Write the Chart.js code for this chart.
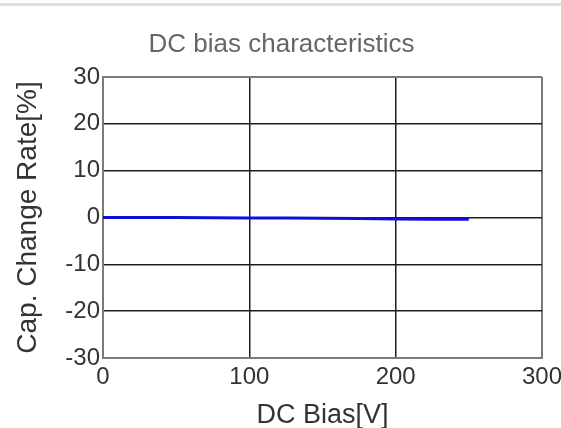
<!DOCTYPE html>
<html>
<head>
<meta charset="utf-8">
<script src="https://cdn.jsdelivr.net/npm/chart.js@4/dist/chart.umd.min.js"></script>
<style>
  html, body { margin: 0; padding: 0; background: #fff; }
  #topRule { position: absolute; left: 0; top: 3px; width: 561px; height: 3px; background: #e0e0e0; }
  #wrap { position: absolute; left: 0; top: 0; width: 561px; height: 428px; }
</style>
</head>
<body>
<div id="topRule"></div>
<div id="wrap"><canvas id="chart" width="561" height="428"></canvas></div>
<script>
// --- Data ---
const biasVolts = [0, 25, 50, 75, 100, 125, 150, 175, 200, 225, 250];
const capChange = [0, 0, 0, -0.05, -0.1, -0.1, -0.15, -0.2, -0.3, -0.35, -0.4];
const xTicks = [0, 100, 200, 300];
const yTicks = [-30, -20, -10, 0, 10, 20, 30];

const FONT = "'Liberation Sans', Arial, sans-serif";
const EDGE = '#7a7a7a';
const GRID = '#1e1e1e';

function gridColor(ctx, min, max) {
    const v = ctx.tick ? ctx.tick.value : null;
    return (v === min || v === max) ? EDGE : GRID;
}
function gridWidth(ctx, min, max) {
    const v = ctx.tick ? ctx.tick.value : null;
    return (v === min || v === max) ? 2 : 1.5;
}

const ctx = document.getElementById('chart').getContext('2d');
new Chart(ctx, {
    type: 'line',
    data: {
        datasets: [{
            data: biasVolts.map((x, i) => ({ x: x, y: capChange[i] })),
            borderColor: '#1010d8',
            borderWidth: 3,
            pointRadius: 0,
            tension: 0,
            fill: false
        }]
    },
    options: {
        responsive: false,
        animation: false,
        // left padding shifts the (full width) title to the right, as in the reference
        layout: { padding: { top: 29.4, left: 21, right: 19, bottom: 0 } },
        plugins: {
            legend: { display: false },
            tooltip: { enabled: false },
            title: {
                display: true,
                text: 'DC bias characteristics',
                color: '#666',
                font: { family: FONT, size: 26, weight: 'normal', lineHeight: 1.2 },
                padding: { top: 0, bottom: 16.4 }
            }
        },
        scales: {
            x: {
                type: 'linear',
                min: 0, max: 300,
                afterBuildTicks: s => { s.ticks = xTicks.map(v => ({ value: v })); },
                afterFit: s => { s.height = 70; s.paddingLeft = 0; s.paddingRight = 0; },
                ticks: { color: '#333', font: { family: FONT, size: 24 }, padding: 5, maxRotation: 0 },
                grid: {
                    drawTicks: false,
                    color: c => gridColor(c, 0, 300),
                    lineWidth: c => gridWidth(c, 0, 300)
                },
                border: { display: true, color: EDGE, width: 2 },
                title: {
                    display: true,
                    text: 'DC Bias[V]',
                    color: '#333',
                    font: { family: FONT, size: 27, lineHeight: 1 },
                    padding: { top: 0, bottom: -1 }
                }
            },
            y: {
                min: -30, max: 30,
                afterBuildTicks: s => { s.ticks = yTicks.map(v => ({ value: v })); },
                afterFit: s => { s.width = 82; },
                ticks: { color: '#333', font: { family: FONT, size: 24 }, padding: 3 },
                grid: {
                    drawTicks: false,
                    color: c => gridColor(c, -30, 30),
                    lineWidth: c => gridWidth(c, -30, 30)
                },
                border: { display: true, color: EDGE, width: 2 },
                title: {
                    display: true,
                    text: 'Cap. Change Rate[%]',
                    color: '#333',
                    font: { family: FONT, size: 28, lineHeight: 1 },
                    padding: { top: -7, bottom: 0 }
                }
            }
        }
    }
});
</script>
</body>
</html>
